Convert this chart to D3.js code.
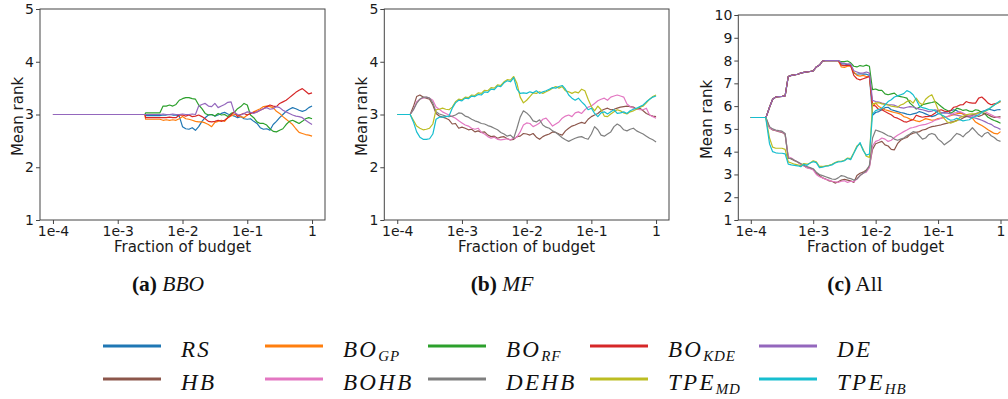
<!DOCTYPE html>
<html>
<head>
<meta charset="utf-8">
<script src="https://cdn.jsdelivr.net/npm/d3@7"></script>
<style>
  body { margin: 0; background: #fff; }
  svg { display: block; }
</style>
</head>
<body>
<svg id="fig" width="1008" height="399"></svg>
<script>
// ---------- budget grids (log10 of the fraction of budget) ----------
const budgetBBO = [-4, -2.58, -2.57, -2.35,
  -2.30,-2.25,-2.20,-2.15,-2.10,-2.05,-2.00,-1.95,-1.90,-1.85,-1.80,-1.75,-1.70,-1.65,-1.60,-1.55,
  -1.50,-1.45,-1.40,-1.35,-1.30,-1.25,-1.20,-1.15,-1.10,-1.05,-1.00,-0.95,-0.90,-0.85,-0.80,-0.75,
  -0.70,-0.65,-0.60,-0.55,-0.50,-0.45,-0.40,-0.35,-0.30,-0.25,-0.20,-0.15,-0.10,-0.05,0];

const budgetMF = [-4, -3.8,
  -3.75,-3.70,-3.65,-3.60,-3.55,-3.50,-3.45,-3.40,-3.35,-3.30,-3.25,-3.20,-3.15,-3.10,-3.05,-3.00,
  -2.95,-2.90,-2.85,-2.80,-2.75,-2.70,-2.65,-2.60,-2.55,-2.50,-2.45,-2.40,-2.35,
  -2.30,-2.25,-2.20,-2.15,-2.10,-2.05,-2.00,-1.95,-1.90,-1.85,-1.80,-1.75,-1.70,-1.65,-1.60,-1.55,
  -1.50,-1.45,-1.40,-1.35,-1.30,-1.25,-1.20,-1.15,-1.10,-1.05,-1.00,-0.95,-0.90,-0.85,-0.80,-0.75,
  -0.70,-0.65,-0.60,-0.55,-0.50,-0.45,-0.40,-0.35,-0.30,-0.25,-0.20,-0.15,-0.10,-0.05,0];

const budgetAll = [-4, -3.76,
  -3.75,-3.70,-3.65,-3.60,-3.55,-3.50,-3.45,-3.40,-3.35,-3.30,-3.25,-3.20,-3.15,-3.10,-3.05,-3.00,
  -2.95,-2.90,-2.85,-2.80,-2.75,-2.70,-2.65,-2.60,-2.55,-2.50,-2.45,-2.40,-2.35,
  -2.30,-2.25,-2.20,-2.15,-2.10,-2.05,-2.00,-1.95,-1.90,-1.85,-1.80,-1.75,-1.70,-1.65,-1.60,-1.55,
  -1.50,-1.45,-1.40,-1.35,-1.30,-1.25,-1.20,-1.15,-1.10,-1.05,-1.00,-0.95,-0.90,-0.85,-0.80,-0.75,
  -0.70,-0.65,-0.60,-0.55,-0.50,-0.45,-0.40,-0.35,-0.30,-0.25,-0.20,-0.15,-0.10,-0.05,0];

// ---------- (a) BBO benchmarks: mean rank among 5 optimizers ----------
const bboRS = [3, 3, 2.98, 2.98,
  2.99,2.99,3.0,2.99,2.99,2.97,2.77,2.73,2.72,2.75,2.70,2.77,2.87,2.94,2.99,3.0,
  2.97,2.99,3.02,3.04,3.01,2.99,2.97,2.94,2.96,2.92,2.91,2.92,2.87,2.83,2.75,2.72,
  2.73,2.70,2.81,2.87,2.94,3.0,3.06,3.10,3.13,3.11,3.08,3.06,3.08,3.13,3.16];
const bboGP = [3, 3, 2.91, 2.91,
  2.89,2.90,2.89,2.90,2.89,2.92,2.96,2.92,2.91,2.89,2.87,2.86,2.86,2.84,2.81,2.77,
  2.85,2.87,2.89,2.87,2.94,2.97,3.0,2.99,2.96,2.94,2.99,3.02,3.05,3.08,3.11,3.15,
  3.16,3.15,3.13,3.06,3.02,2.96,2.91,2.86,2.81,2.73,2.66,2.64,2.62,2.61,2.59];
const bboRF = [3, 3, 3.03, 3.03,
  3.16,3.16,3.18,3.16,3.19,3.27,3.30,3.32,3.32,3.30,3.29,3.18,3.11,3.02,2.99,3.0,
  2.97,3.02,2.99,3.0,2.96,3.02,3.04,3.11,3.15,3.21,3.18,2.99,2.94,2.86,2.83,2.83,
  2.80,2.73,2.68,2.67,2.70,2.73,2.81,2.87,2.89,2.86,2.83,2.87,2.92,2.94,2.92];
const bboKDE = [3, 3, 2.94, 2.94,
  2.94,2.94,2.95,2.94,2.94,2.99,2.99,2.97,2.99,2.96,2.97,2.99,2.96,2.92,2.87,2.86,
  2.87,2.89,2.87,2.89,2.94,2.99,3.05,2.96,3.0,3.02,2.99,3.02,3.04,3.05,3.08,3.11,
  3.15,3.18,3.16,3.15,3.21,3.24,3.27,3.32,3.37,3.42,3.46,3.49,3.44,3.39,3.41];
const bboDE = [3, 3, 3.0, 3.0,
  3.01,3.0,3.0,3.01,3.0,3.0,3.01,3.0,3.0,3.01,3.0,3.16,3.19,3.21,3.16,3.15,
  3.21,3.13,3.16,3.19,3.23,3.24,3.04,3.0,2.99,3.02,3.05,3.04,3.02,3.05,3.08,3.11,
  3.13,3.10,3.11,3.15,3.13,3.08,3.05,3.02,2.99,2.97,2.96,2.94,2.89,2.85,2.81];

// ---------- (b) multi-fidelity benchmarks: mean rank among 5 optimizers ----------
const mfHB = [3, 3,
  3.15,3.34,3.37,3.33,3.31,3.29,3.18,3.02,2.97,2.95,2.93,2.90,2.82,2.83,2.74,2.76,2.74,2.71,2.72,2.67,
  2.69,2.66,2.67,2.61,2.58,2.59,2.55,2.57,2.58,2.54,2.52,2.53,2.58,2.59,2.64,2.63,2.61,2.64,2.57,2.53,
  2.58,2.61,2.63,2.67,2.66,2.63,2.61,2.69,2.74,2.78,2.80,2.83,2.85,2.83,2.91,2.96,2.99,3.02,3.07,3.10,
  3.12,3.09,3.10,3.12,3.14,3.15,3.16,3.15,3.14,3.10,3.12,3.07,3.02,2.99,2.97,2.96];
const mfBOHB = [3, 3,
  3.09,3.24,3.29,3.31,3.33,3.31,3.27,3.14,3.10,3.05,3.02,2.99,2.96,2.93,2.88,2.84,2.80,2.78,2.74,2.72,
  2.74,2.66,2.63,2.58,2.55,2.57,2.53,2.52,2.53,2.54,2.52,2.55,2.57,2.67,2.80,2.84,2.83,2.77,2.80,2.84,
  2.91,2.93,2.86,2.78,2.82,2.86,2.93,2.97,2.99,2.96,3.03,3.05,3.02,3.09,3.14,3.16,3.21,3.26,3.29,3.31,
  3.27,3.33,3.35,3.37,3.35,3.33,3.20,3.15,3.12,3.10,3.09,3.09,3.12,2.99,2.96,2.93];
const mfDEHB = [3, 3,
  3.09,3.21,3.29,3.33,3.33,3.31,3.22,3.05,3.01,2.99,2.97,2.96,2.97,2.99,3.03,3.02,2.97,2.95,2.91,2.88,
  2.86,2.83,2.82,2.79,2.77,2.74,2.71,2.66,2.63,2.59,2.61,2.55,2.74,2.95,3.07,3.03,2.97,2.88,2.86,2.90,
  2.80,2.76,2.74,2.69,2.66,2.61,2.56,2.52,2.49,2.52,2.55,2.57,2.58,2.55,2.53,2.63,2.77,2.71,2.61,2.59,
  2.63,2.67,2.77,2.82,2.78,2.71,2.69,2.72,2.74,2.69,2.66,2.63,2.59,2.55,2.52,2.48];
const mfTPEMD = [3, 3,
  2.89,2.78,2.74,2.71,2.72,2.74,2.82,3.09,3.10,3.12,3.10,3.09,3.14,3.24,3.29,3.28,3.33,3.32,3.37,3.36,
  3.41,3.40,3.46,3.45,3.51,3.50,3.56,3.55,3.62,3.66,3.65,3.72,3.59,3.33,3.22,3.27,3.34,3.41,3.40,3.43,
  3.40,3.43,3.46,3.50,3.53,3.50,3.53,3.45,3.43,3.40,3.43,3.41,3.48,3.45,3.29,3.15,3.07,3.16,3.09,2.97,
  2.96,3.01,3.05,3.09,3.07,3.03,3.01,3.05,3.07,3.10,3.14,3.16,3.22,3.29,3.34,3.37];
const mfTPEHB = [3, 3,
  2.86,2.67,2.57,2.53,2.53,2.54,2.63,2.91,2.95,2.95,2.96,2.97,3.12,3.22,3.27,3.26,3.31,3.30,3.35,3.34,
  3.38,3.37,3.43,3.42,3.48,3.47,3.54,3.53,3.60,3.64,3.62,3.70,3.48,3.40,3.41,3.40,3.43,3.41,3.45,3.40,
  3.43,3.45,3.48,3.51,3.50,3.53,3.55,3.48,3.37,3.31,3.27,3.31,3.24,3.18,3.09,3.12,3.02,2.96,3.03,3.05,
  3.01,3.05,3.09,3.02,3.03,3.05,3.02,3.07,3.10,3.12,3.15,3.18,3.24,3.29,3.33,3.35];

// ---------- (c) all benchmarks: mean rank among 10 optimizers ----------
// the five BBO optimizers share one trajectory until about 2.5e-3 of the budget
const allEarlyBBO = [5.5, 5.5,
  5.55,5.95,6.3,6.4,6.42,6.43,6.45,7.3,7.35,7.37,7.4,7.45,7.48,7.5,7.52,7.55,
  7.72,7.8,7.98,8.0,8.0,8.0,8.0,8.0];
const allRS = [...allEarlyBBO,
  7.85,7.85,7.82,7.8,7.45,7.4,7.42,7.4,7.4,7.35,
  5.6,5.72,5.76,5.84,5.93,5.95,5.84,5.8,5.76,5.72,5.69,5.65,5.62,5.66,5.69,5.76,5.72,5.66,5.6,5.54,
  5.58,5.66,5.69,5.72,5.76,5.8,5.84,5.8,5.72,5.66,5.58,5.54,5.6,5.66,5.72,5.76,5.8,5.87,5.84,5.8,
  5.84,5.85];
const allGP = [...allEarlyBBO,
  7.72,7.7,7.75,7.75,7.5,7.35,7.32,7.35,7.3,7.3,
  5.98,6.13,5.98,5.91,5.84,5.8,5.76,5.72,5.69,5.65,5.54,5.5,5.43,5.4,5.35,5.32,5.38,5.45,5.42,5.38,
  5.4,5.45,5.47,5.51,5.54,5.58,5.62,5.66,5.69,5.66,5.62,5.54,5.47,5.3,5.22,5.15,5.06,4.96,4.88,4.8,
  4.78,4.88];
const allRF = [...allEarlyBBO,
  7.95,7.95,7.98,7.9,7.75,7.72,7.78,7.75,7.8,7.75,
  6.72,6.75,6.69,6.69,6.54,6.5,6.54,6.57,6.45,6.42,6.39,6.35,6.13,6.01,5.87,5.95,6.06,6.1,6.13,6.16,
  6.2,6.1,5.98,5.87,5.81,5.69,5.76,5.91,5.87,5.81,5.84,5.78,5.76,5.84,5.81,5.72,5.66,5.51,5.43,5.37,
  5.32,5.25];
const allKDE = [...allEarlyBBO,
  7.8,7.78,7.8,7.78,7.35,7.2,7.15,7.2,7.25,7.3,
  6.05,6.0,5.84,5.84,5.76,5.69,5.62,5.51,5.47,5.4,5.32,5.3,5.36,5.4,5.6,5.55,5.51,5.54,5.55,5.6,
  5.69,5.8,5.84,5.78,5.76,5.8,5.95,5.98,6.05,6.06,6.2,6.15,6.13,6.13,6.35,6.4,6.28,6.13,6.06,6.1,
  6.13,6.2];
const allDE = [...allEarlyBBO,
  7.9,7.88,7.85,7.85,7.55,7.5,7.45,7.45,7.5,7.45,
  6.25,6.2,6.18,6.13,6.1,6.06,6.06,6.04,5.98,5.93,5.91,5.95,5.98,5.96,5.91,5.87,5.84,5.8,5.76,5.78,
  5.84,5.8,5.72,5.69,5.69,5.66,5.62,5.6,5.57,5.54,5.55,5.52,5.5,5.47,5.43,5.38,5.32,5.25,5.2,5.1,
  5.05,4.98];
const allHB = [5.5, 5.5,
  5.4,5.05,4.95,4.92,4.88,4.85,4.75,3.72,3.68,3.6,3.55,3.45,3.38,3.3,3.28,3.22,3.05,2.95,2.85,2.8,
  2.72,2.7,2.62,2.68,2.75,2.78,2.75,2.72,2.65,2.95,3.05,3.1,3.2,3.35,
  4.1,4.35,4.4,4.45,4.3,4.25,4.1,4.08,4.35,4.5,4.58,4.62,4.75,4.81,4.85,4.88,4.95,4.98,5.05,5.1,
  5.12,5.15,5.18,5.22,5.25,5.3,5.32,5.38,5.4,5.48,5.55,5.58,5.62,5.6,5.55,5.6,5.68,5.62,5.55,5.5,
  5.52,5.54];
const allBOHB = [5.5, 5.5,
  5.45,5.05,4.98,4.93,4.9,4.87,4.78,3.78,3.72,3.62,3.55,3.45,3.38,3.3,3.25,3.2,3.0,2.9,2.85,2.78,
  2.75,2.7,2.68,2.65,2.7,2.72,2.65,2.7,2.68,2.8,2.95,3.05,3.1,3.3,
  4.25,4.45,4.5,4.6,4.55,4.45,4.5,4.62,4.72,4.8,4.88,4.95,5.03,5.06,5.1,5.15,5.18,5.2,5.25,5.3,
  5.38,5.42,5.47,5.5,5.54,5.6,5.69,5.72,5.76,5.7,5.62,5.58,5.55,5.62,5.69,5.72,5.76,5.69,5.62,5.55,
  5.5,5.47];
const allDEHB = [5.5, 5.5,
  5.45,5.1,5.0,4.95,4.92,4.9,4.8,3.7,3.7,3.62,3.55,3.48,3.4,3.35,3.3,3.25,3.1,3.0,2.95,2.9,
  2.85,2.8,2.78,2.85,2.95,2.92,2.85,2.82,2.75,2.8,2.95,3.05,3.15,3.4,
  4.6,4.95,4.9,4.85,4.78,4.7,4.66,4.55,4.5,4.55,4.6,4.7,4.78,4.88,4.85,4.7,4.55,4.6,4.75,4.8,
  4.75,4.55,4.45,4.3,4.4,4.5,4.66,4.8,4.75,4.65,4.8,4.9,5.05,4.9,4.75,4.65,4.8,4.85,4.7,4.62,
  4.5,4.45];
const allTPEMD = [5.5, 5.5,
  5.35,4.6,4.2,4.15,4.15,4.15,4.1,3.55,3.5,3.45,3.42,3.38,3.48,3.45,3.5,3.6,3.55,3.35,3.35,3.38,
  3.4,3.45,3.52,3.58,3.58,3.62,3.72,3.7,3.95,4.25,4.35,4.1,3.8,3.75,
  6.1,6.13,6.15,6.1,6.08,6.05,6.0,5.98,5.95,6.05,6.1,6.2,6.25,6.13,6.35,6.15,6.06,6.3,6.42,6.5,
  6.2,5.85,5.62,5.45,5.3,5.25,5.3,5.35,5.5,5.55,5.62,5.65,5.66,5.66,5.7,5.72,5.76,5.84,5.95,6.05,
  6.13,6.2];
const allTPEHB = [5.5, 5.5,
  5.3,4.35,4.0,3.95,3.93,3.93,3.9,3.45,3.42,3.4,3.38,3.34,3.45,3.4,3.5,3.56,3.52,3.3,3.32,3.36,
  3.38,3.42,3.5,3.55,3.56,3.6,3.7,3.65,3.93,4.2,4.4,4.05,3.85,3.9,
  5.65,5.8,5.85,5.9,6.05,6.2,6.28,6.4,6.45,6.5,6.55,6.68,6.62,6.5,6.28,6.0,5.93,5.9,5.85,5.84,
  5.8,5.7,5.62,5.55,5.45,5.38,5.4,5.47,5.4,5.35,5.38,5.4,5.5,5.55,5.62,5.72,5.8,5.84,5.95,6.05,
  6.15,6.25];

// ---------- axis ticks ----------
const xTickValues = [1e-4, 1e-3, 1e-2, 1e-1, 1];
const xTickLabels = ["1e-4", "1e-3", "1e-2", "1e-1", "1"];
const yTicksFive = [1, 2, 3, 4, 5];
const yTicksTen = [1, 2, 3, 4, 5, 6, 7, 8, 9, 10];

// ---------- optimizers (legend order: row by row) ----------
const methods = {
  RS:    { base: "RS",   sub: "",    color: "#1f77b4" },
  GP:    { base: "BO",   sub: "GP",  color: "#ff7f0e" },
  RF:    { base: "BO",   sub: "RF",  color: "#2ca02c" },
  KDE:   { base: "BO",   sub: "KDE", color: "#d62728" },
  DE:    { base: "DE",   sub: "",    color: "#9467bd" },
  HB:    { base: "HB",   sub: "",    color: "#8c564b" },
  BOHB:  { base: "BOHB", sub: "",    color: "#e377c2" },
  DEHB:  { base: "DEHB", sub: "",    color: "#7f7f7f" },
  TPEMD: { base: "TPE",  sub: "MD",  color: "#bcbd22" },
  TPEHB: { base: "TPE",  sub: "HB",  color: "#17becf" }
};
const legendRows = [["RS", "GP", "RF", "KDE", "DE"], ["HB", "BOHB", "DEHB", "TPEMD", "TPEHB"]];

// ---------- panels ----------
const panels = [
  { left: 40, right: 325, top: 9, bottom: 220, yDomain: [1, 5], yTicks: yTicksFive,
    yLabelX: 18, budget: budgetBBO, captionX: 168,
    caption: [{ t: "(a)", bold: true }, { t: " BBO", italic: true }],
    series: [["RS", bboRS], ["GP", bboGP], ["RF", bboRF], ["KDE", bboKDE], ["DE", bboDE]] },
  { left: 384.3, right: 669, top: 9, bottom: 220, yDomain: [1, 5], yTicks: yTicksFive,
    yLabelX: 362, budget: budgetMF, captionX: 502,
    caption: [{ t: "(b)", bold: true }, { t: " MF", italic: true }],
    series: [["HB", mfHB], ["BOHB", mfBOHB], ["DEHB", mfDEHB], ["TPEMD", mfTPEMD], ["TPEHB", mfTPEHB]] },
  { left: 738.3, right: 1013, top: 15, bottom: 220, yDomain: [1, 10], yTicks: yTicksTen,
    yLabelX: 707, budget: budgetAll, captionX: 855,
    caption: [{ t: "(c)", bold: true }, { t: " All" }],
    series: [["RS", allRS], ["GP", allGP], ["RF", allRF], ["KDE", allKDE], ["DE", allDE],
             ["HB", allHB], ["BOHB", allBOHB], ["DEHB", allDEHB], ["TPEMD", allTPEMD], ["TPEHB", allTPEHB]] }
];

const svg = d3.select("#fig");
svg.append("rect").attr("width", 1008).attr("height", 399).attr("fill", "#fff");

const sansFont = "'DejaVu Sans', sans-serif";
const serifFont = "'Liberation Serif', 'Times New Roman', serif";

panels.forEach(p => {
  const x = d3.scaleLog().domain([Math.pow(10, -4.2), Math.pow(10, 0.2)]).range([p.left, p.right]);
  const y = d3.scaleLinear().domain(p.yDomain).range([p.bottom, p.top]);
  const g = svg.append("g");

  // rank trajectories
  const line = d3.line()
    .x(d => x(Math.pow(10, d[0])))
    .y(d => y(d[1]));
  p.series.forEach(([key, values]) => {
    const pts = p.budget.map((b, i) => [b, values[i]]);
    g.append("path")
      .attr("d", line(pts))
      .attr("fill", "none")
      .attr("stroke", methods[key].color)
      .attr("stroke-width", 1.2)
      .attr("stroke-linejoin", "round");
  });

  // frame
  g.append("rect")
    .attr("x", p.left).attr("y", p.top)
    .attr("width", p.right - p.left).attr("height", p.bottom - p.top)
    .attr("fill", "none").attr("stroke", "#444").attr("stroke-width", 1);

  // axes
  const xAxis = d3.axisBottom(x).tickValues(xTickValues)
    .tickFormat((d, i) => xTickLabels[i]).tickSizeOuter(0).tickSize(4).tickPadding(2);
  const gx = g.append("g").attr("transform", `translate(0,${p.bottom})`).call(xAxis);
  const yAxis = d3.axisLeft(y).tickValues(p.yTicks).tickFormat(d3.format("d"))
    .tickSizeOuter(0).tickSize(4).tickPadding(2);
  const gy = g.append("g").attr("transform", `translate(${p.left},0)`).call(yAxis);
  [gx, gy].forEach(ax => {
    ax.select(".domain").remove();
    ax.selectAll(".tick line").attr("stroke", "#444");
    ax.selectAll(".tick text").attr("fill", "#1a1a1a")
      .style("font-family", sansFont).style("font-size", "14px");
  });

  // axis titles
  g.append("text")
    .attr("x", (x(1e-4) + x(1)) / 2).attr("y", 252)
    .attr("text-anchor", "middle")
    .style("font-family", sansFont).style("font-size", "15px").attr("fill", "#1a1a1a")
    .text("Fraction of budget");
  g.append("text")
    .attr("transform", `translate(${p.yLabelX},${(p.top + p.bottom) / 2 + 2}) rotate(-90)`)
    .attr("text-anchor", "middle").attr("dy", "0.35em")
    .style("font-family", sansFont).style("font-size", "15px").attr("fill", "#1a1a1a")
    .text("Mean rank");

  // caption
  const cap = g.append("text")
    .attr("x", p.captionX).attr("y", 291).attr("text-anchor", "middle")
    .style("font-family", serifFont).style("font-size", "21.5px").attr("fill", "#111");
  p.caption.forEach(part => {
    cap.append("tspan")
      .style("font-weight", part.bold ? "bold" : "normal")
      .style("font-style", part.italic ? "italic" : "normal")
      .text(part.t);
  });
});

// ---------- legend ----------
const legendLineX = [103, 265, 428, 590, 759];
const legendRowY = [346, 379];
const legend = svg.append("g");
legendRows.forEach((row, r) => {
  row.forEach((key, c) => {
    const m = methods[key];
    const x0 = legendLineX[c], yy = legendRowY[r];
    legend.append("line")
      .attr("x1", x0).attr("x2", x0 + 58).attr("y1", yy).attr("y2", yy)
      .attr("stroke", m.color).attr("stroke-width", 3);
    const t = legend.append("text")
      .attr("x", x0 + 78).attr("y", yy + 11)
      .style("font-family", serifFont).style("font-style", "italic")
      .style("font-size", "23px").style("letter-spacing", "2.3px").attr("fill", "#111");
    t.append("tspan").text(m.base);
    if (m.sub) {
      t.append("tspan").attr("dy", 4).style("font-size", "15px").style("letter-spacing", "0.8px").text(m.sub);
    }
  });
});
</script>
</body>
</html>
